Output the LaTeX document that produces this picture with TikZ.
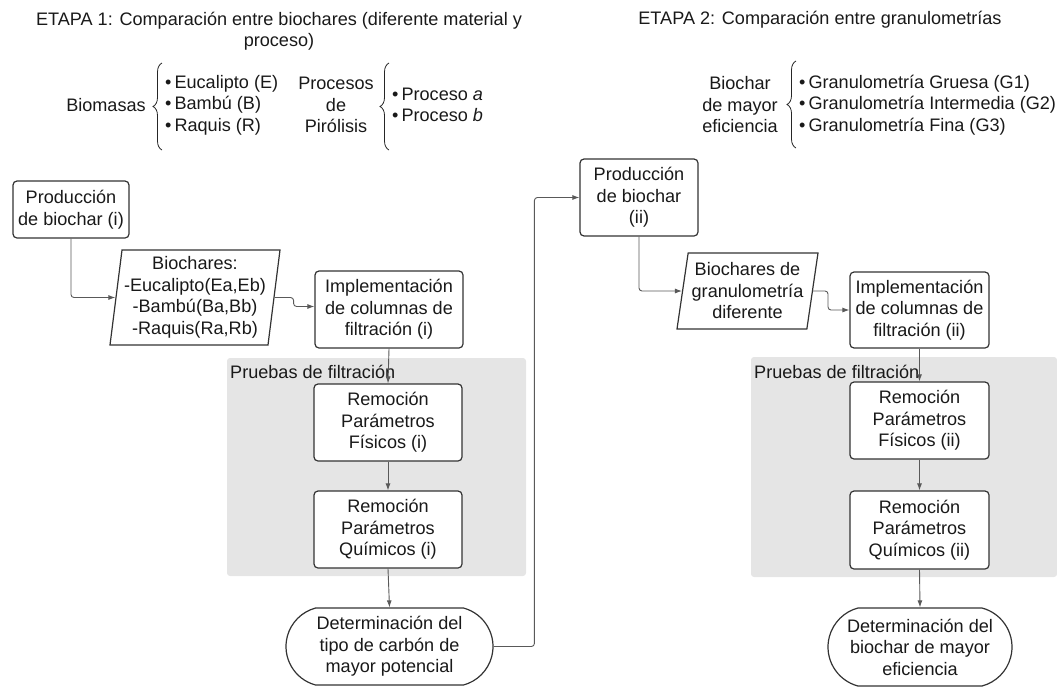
\documentclass[tikz,border=0pt]{standalone}
\usepackage{fontspec}
\setmainfont{Liberation Sans}
\usetikzlibrary{shapes.geometric,shapes.misc,arrows.meta,decorations.pathreplacing,calc}
\begin{document}
\begin{tikzpicture}[x=1pt,y=-1pt,
  every node/.style={font=\fontsize{18.1}{21.5}\selectfont, inner sep=0pt, text=black!90},
  box/.style={draw=black!80, line width=1.2pt, fill=white, rounded corners=4pt, align=center},
  para/.style={draw=black!80, line width=1.2pt, fill=white, trapezium, trapezium stretches body, align=center},
  term/.style={draw=black!80, line width=1.2pt, fill=white, rounded rectangle, rounded rectangle arc length=150, align=center},
  zone/.style={fill=gray!20, rounded corners=3pt},
  conn/.style={draw=black!65, line width=0.9pt, rounded corners=3pt, -{Latex[length=7pt,width=5pt]}},
  brc/.style={draw=black!85, decorate, decoration={brace, amplitude=9pt}, line width=0.8pt},
  txt/.style={align=center},
  lst/.style={align=left, anchor=west}
]
\useasboundingbox (0,0) rectangle (1057,686);

% titles
\node[txt] (t1) at (279,31) {ETAPA 1: Comparación entre biochares (diferente material y\\proceso)};
\node[txt] (t2) at (820,20) {ETAPA 2: Comparación entre granulometrías};

% annotations stage 1
\node[txt] (bio) at (106,105) {Biomasas};
\draw[brc] (162,150) -- (162,63);
\node[lst] (biol) at (165,105) {\textbullet\,Eucalipto (E)\\\textbullet\,Bambú (B)\\\textbullet\,Raquis (R)};
\node[txt] (proc) at (336,105) {Procesos\\de\\Pirólisis};
\draw[brc] (389,150) -- (389,63);
\node[lst] (procl) at (392,105) {\textbullet\,Proceso \textit{a}\\\textbullet\,Proceso \textit{b}};

% annotations stage 2
\node[txt] (bch) at (740,105) {Biochar\\de mayor\\eficiencia};
\draw[brc] (796,148) -- (796,61);
\node[lst] (granl) at (799,105) {\textbullet\,Granulometría Gruesa (G1)\\\textbullet\,Granulometría Intermedia (G2)\\\textbullet\,Granulometría Fina (G3)};

% grey zones
\node[zone, minimum width=299pt, minimum height=218pt] (z1) at (376.5,467) {};
\node[zone, minimum width=306pt, minimum height=220pt] (z2) at (904,467) {};
\node[anchor=west] (l1) at (230,372) {Pruebas de filtración};
\node[anchor=west] (l2) at (754,372) {Pruebas de filtración};

% stage 1 flow
\node[box, minimum width=116pt, minimum height=57pt] (p1) at (71,209.5) {Producción\\de biochar (i)};
\node[para, trapezium left angle=81.6, trapezium right angle=98.4, minimum width=170pt, minimum height=95pt] (pa1) at (195,297.5) {Biochares:\\-Eucalipto(Ea,Eb)\\-Bambú(Ba,Bb)\\-Raquis(Ra,Rb)};
\node[box, minimum width=148pt, minimum height=77pt] (i1) at (389,309.5) {Implementación\\de columnas de\\filtración (i)};
\node[box, minimum width=148pt, minimum height=77pt] (r1) at (388,422.5) {Remoción\\Parámetros\\Físicos (i)};
\node[box, minimum width=148pt, minimum height=77pt] (q1) at (388,529.5) {Remoción\\Parámetros\\Químicos (i)};
\node[term, minimum width=207pt, minimum height=77pt] (d1) at (389.5,646.5) {Determinación del\\tipo de carbón de\\mayor potencial};

% stage 2 flow
\node[box, minimum width=118pt, minimum height=77pt] (p2) at (639,197.5) {Producción\\de biochar\\(ii)};
\node[para, trapezium left angle=78.8, trapezium right angle=101.2, minimum width=141pt, minimum height=76pt] (pa2) at (747.5,291) {Biochares de\\granulometría\\diferente};
\node[box, minimum width=139pt, minimum height=76pt] (i2) at (919.5,310) {Implementación\\de columnas de\\filtración (ii)};
\node[box, minimum width=139pt, minimum height=77pt] (r2) at (919.5,420.5) {Remoción\\Parámetros\\Físicos (ii)};
\node[box, minimum width=139pt, minimum height=78pt] (q2) at (919.5,530) {Remoción\\Parámetros\\Químicos (ii)};
\node[term, minimum width=184pt, minimum height=78pt] (d2) at (920,647) {Determinación del\\biochar de mayor\\eficiencia};

% connectors
\draw[conn] (p1.south) |- (pa1.west);
\draw[conn] (pa1.east) -- ++(19,0) |- ([yshift=3pt]i1.west);
\draw[conn] (i1.south) -- (r1.north);
\draw[conn] (r1.south) -- (q1.north);
\draw[conn] (q1.south) -- (d1.north);
\draw[conn] (d1.east) -| ($(p2.west)+(-45,0)$) -- (p2.west);
\draw[conn] (p2.south) |- (pa2.west);
\draw[conn] (pa2.east) -- ++(15,0) |- (i2.west);
\draw[conn] (i2.south) -- (r2.north);
\draw[conn] (r2.south) -- (q2.north);
\draw[conn] (q2.south) -- (d2.north);
\end{tikzpicture}
\end{document}
